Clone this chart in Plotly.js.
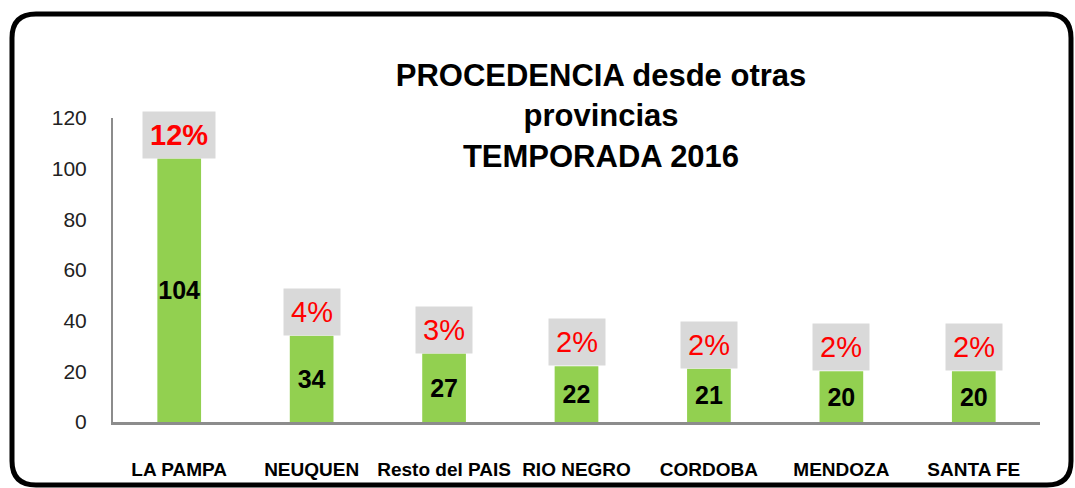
<!DOCTYPE html>
<html>
<head>
<meta charset="utf-8">
<script src="https://cdn.plot.ly/plotly-3.0.1.min.js"></script>
<style>
html,body{margin:0;padding:0;background:#fff;}
#chart{width:1075px;height:488px;}
</style>
</head>
<body>
<div id="chart"></div>
<script>
const categories = ["LA PAMPA", "NEUQUEN", "Resto del PAIS", "RIO NEGRO", "CORDOBA", "MENDOZA", "SANTA FE"];
const values = [104, 34, 27, 22, 21, 20, 20];
const percentLabels = ["12%", "4%", "3%", "2%", "2%", "2%", "2%"];
const yTicks = [0, 20, 40, 60, 80, 100, 120];

const W = 1075, H = 488;
const mL = 113, mR = 35, mT = 118, mB = 66;
const pw = W - mL - mR, ph = H - mT - mB;
const px = x => (x - mL) / pw;
const py = y => (H - mB - y) / ph;

// rounded border path in paper coords
const bl = 12, bt = 14, br = 1071, bb = 485, rad = 24;
const borderPath =
  `M ${px(bl + rad)},${py(bt)} L ${px(br - rad)},${py(bt)} Q ${px(br)},${py(bt)} ${px(br)},${py(bt + rad)} ` +
  `L ${px(br)},${py(bb - rad)} Q ${px(br)},${py(bb)} ${px(br - rad)},${py(bb)} ` +
  `L ${px(bl + rad)},${py(bb)} Q ${px(bl)},${py(bb)} ${px(bl)},${py(bb - rad)} ` +
  `L ${px(bl)},${py(bt + rad)} Q ${px(bl)},${py(bt)} ${px(bl + rad)},${py(bt)} Z`;

const trace = {
  type: "bar",
  x: categories,
  y: values,
  text: values.map(String),
  textposition: "inside",
  insidetextanchor: "middle",
  textangle: 0,
  constraintext: "none",
  textfont: {family: "Liberation Sans, Arial, sans-serif", size: 25, color: "#000", weight: "bold"},
  marker: {color: "#92D050"},
  width: 0.33,
  hoverinfo: "skip",
  cliponaxis: false
};

const annotations = categories.map((c, i) => ({
  x: c, y: values[i], xref: "x", yref: "y",
  text: percentLabels[i],
  showarrow: false,
  yanchor: "bottom", xanchor: "center",
  bgcolor: "#D9D9D9",
  borderpad: 7,
  font: {family: "Liberation Sans, Arial, sans-serif", size: 29, color: "#FF0000", weight: i === 0 ? "bold" : "normal"}
}));

const layout = {
  width: W, height: H,
  margin: {l: mL, r: mR, t: mT, b: mB},
  paper_bgcolor: "#fff",
  plot_bgcolor: "#fff",
  showlegend: false,
  title: {
    text: "<b>PROCEDENCIA desde otras<br>provincias<br>TEMPORADA 2016</b>",
    x: 601 / W, xanchor: "center", xref: "container",
    y: 1 - 86 / H, yanchor: "middle", yref: "container",
    font: {family: "Liberation Sans, Arial, sans-serif", size: 31, color: "#000"}
  },
  xaxis: {
    type: "category",
    showline: true, linecolor: "#8C8C8C", linewidth: 3,
    showgrid: false, zeroline: false,
    ticks: "", ticklabelstandoff: 28,
    tickfont: {family: "Liberation Sans, Arial, sans-serif", size: 19, color: "#000", weight: "bold"}
  },
  yaxis: {
    range: [0, 120],
    tickvals: yTicks,
    showline: true, linecolor: "#8C8C8C", linewidth: 2,
    showgrid: false, zeroline: false,
    ticks: "", ticklabelstandoff: 20,
    tickfont: {family: "Liberation Sans, Arial, sans-serif", size: 21, color: "#222"}
  },
  annotations: annotations,
  shapes: [{
    type: "path", xref: "paper", yref: "paper",
    path: borderPath,
    line: {color: "#000", width: 5},
    fillcolor: "rgba(0,0,0,0)",
    layer: "above"
  }]
};

Plotly.newPlot("chart", [trace], layout, {displayModeBar: false, staticPlot: true});
</script>
</body>
</html>
